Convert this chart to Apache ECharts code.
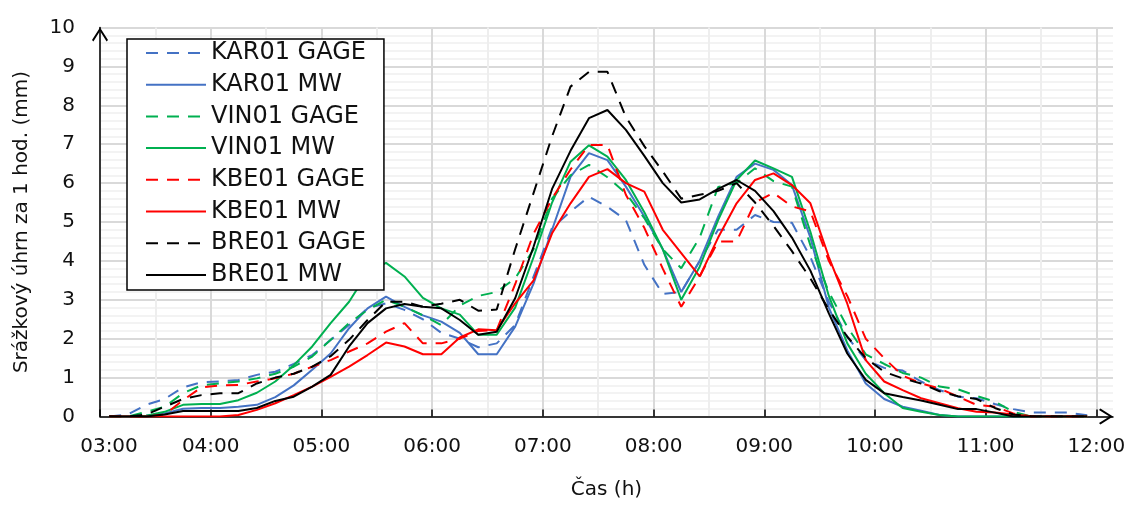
<!DOCTYPE html>
<html>
<head>
<meta charset="utf-8">
<script src="https://cdn.jsdelivr.net/npm/echarts@6/dist/echarts.min.js"></script>
<style>
  html, body { margin: 0; padding: 0; background: #fff; }
  #chart { width: 1138px; height: 505px; }
</style>
</head>
<body>
<div id="chart"></div>
<script>
// 10-minute intervals, plotted at the middle of each interval
const times = [
  '03:05', '03:15', '03:25', '03:35', '03:45', '03:55',
  '04:05', '04:15', '04:25', '04:35', '04:45', '04:55',
  '05:05', '05:15', '05:25', '05:35', '05:45', '05:55',
  '06:05', '06:15', '06:25', '06:35', '06:45', '06:55',
  '07:05', '07:15', '07:25', '07:35', '07:45', '07:55',
  '08:05', '08:15', '08:25', '08:35', '08:45', '08:55',
  '09:05', '09:15', '09:25', '09:35', '09:45', '09:55',
  '10:05', '10:15', '10:25', '10:35', '10:45', '10:55',
  '11:05', '11:15', '11:25', '11:35', '11:45', '11:55'
]
const hourLabels = ['03:00', '04:00', '05:00', '06:00', '07:00', '08:00', '09:00', '10:00', '11:00', '12:00']

const karGage = [0, 0.05, 0.3, 0.45, 0.75, 0.88, 0.9, 0.94, 1.07, 1.15, 1.35, 1.58, 1.97, 2.35, 2.78, 2.91, 2.74, 2.5, 2.15, 2.0,
  1.78, 1.88, 2.35, 3.6, 4.85, 5.27, 5.65, 5.39, 5.05, 3.9, 3.15, 3.2, 4.0, 4.8, 4.8, 5.18, 5.0, 4.98, 4.1, 2.95,
  2.05, 1.45, 1.25, 1.18, 0.9, 0.68, 0.51, 0.47, 0.32, 0.19, 0.1, 0.1, 0.1, 0.03]
const karMw = [0, 0, 0.02, 0.08, 0.2, 0.22, 0.22, 0.25, 0.3, 0.5, 0.8, 1.2, 1.62, 2.27, 2.78, 3.08, 2.82, 2.6, 2.44, 2.15,
  1.6, 1.6, 2.31, 3.42, 4.8, 6.16, 6.77, 6.59, 5.91, 5.14, 4.3, 3.2, 4.0, 5.14, 6.16, 6.5, 6.34, 5.95, 4.6, 2.8,
  1.7, 0.85, 0.45, 0.25, 0.15, 0.04, 0, 0, 0, 0, 0, 0, 0, 0]
const vinGage = [0, 0, 0.12, 0.25, 0.6, 0.8, 0.85, 0.9, 0.98, 1.1, 1.28, 1.54, 1.97, 2.4, 2.74, 3.0, 2.82, 2.6, 2.35, 2.85,
  3.1, 3.2, 3.55, 4.3, 5.6, 6.2, 6.47, 6.15, 5.74, 5.1, 4.3, 3.81, 4.6, 5.9, 6.0, 6.38, 6.05, 5.91, 4.4, 3.2,
  2.3, 1.6, 1.35, 1.12, 1.0, 0.77, 0.7, 0.53, 0.38, 0.12, 0, 0, 0, 0]
const vinMw = [0, 0, 0.02, 0.12, 0.3, 0.32, 0.32, 0.42, 0.61, 0.9, 1.32, 1.8, 2.4, 2.95, 3.7, 3.95, 3.6, 3.05, 2.78, 2.62,
  2.1, 2.1, 2.8, 4.1, 5.5, 6.55, 6.97, 6.68, 6.08, 5.25, 4.3, 3.0, 3.85, 5.05, 6.08, 6.58, 6.38, 6.16, 4.75, 3.1,
  1.88, 1.1, 0.6, 0.22, 0.12, 0.04, 0, 0, 0, 0, 0, 0, 0, 0]
const kbeGage = [0, 0, 0, 0.05, 0.42, 0.75, 0.8, 0.81, 0.9, 0.98, 1.1, 1.28, 1.45, 1.67, 1.88, 2.18, 2.4, 1.88, 1.88, 2.0,
  2.2, 2.22, 3.4, 4.7, 5.6, 6.35, 6.98, 6.98, 5.7, 4.85, 3.8, 2.82, 3.6, 4.5, 4.5, 5.5, 5.75, 5.4, 5.27, 4.0,
  3.1, 2.0, 1.5, 1.05, 0.85, 0.72, 0.51, 0.3, 0.25, 0.08, 0, 0, 0, 0]
const kbeMw = [0, 0, 0, 0, 0, 0, 0, 0.04, 0.17, 0.34, 0.55, 0.77, 1.02, 1.28, 1.58, 1.9, 1.8, 1.6, 1.6, 2.03,
  2.24, 2.22, 2.91, 3.5, 4.71, 5.48, 6.16, 6.36, 6.0, 5.78, 4.8, 4.2, 3.6, 4.6, 5.48, 6.08, 6.25, 5.95, 5.48, 4.1,
  2.9, 1.45, 0.9, 0.68, 0.47, 0.34, 0.21, 0.12, 0.1, 0.05, 0, 0, 0, 0]
const breGage = [0, 0, 0.05, 0.25, 0.45, 0.55, 0.6, 0.6, 0.85, 1.0, 1.1, 1.28, 1.55, 1.97, 2.48, 2.95, 2.95, 2.82, 2.9, 3.0,
  2.72, 2.75, 4.3, 5.75, 7.2, 8.48, 8.86, 8.86, 7.7, 6.95, 6.3, 5.6, 5.7, 5.8, 6.0, 5.5, 4.9, 4.25, 3.55, 2.75,
  2.05, 1.5, 1.15, 0.98, 0.85, 0.65, 0.52, 0.45, 0.22, 0.05, 0, 0, 0, 0]
const breMw = [0, 0, 0, 0.05, 0.14, 0.14, 0.14, 0.14, 0.22, 0.4, 0.51, 0.77, 1.07, 1.8, 2.4, 2.78, 2.89, 2.82, 2.78, 2.48,
  2.1, 2.18, 3.04, 4.37, 5.85, 6.83, 7.67, 7.88, 7.37, 6.7, 6.0, 5.5, 5.58, 5.85, 6.08, 5.8, 5.28, 4.6, 3.75, 2.65,
  1.62, 0.94, 0.6, 0.5, 0.41, 0.3, 0.19, 0.19, 0.1, 0, 0, 0, 0, 0]

const seriesDefs = [
  {name: 'KAR01 GAGE', values: karGage, color: '#4472C4', dashed: true},
  {name: 'KAR01 MW', values: karMw, color: '#4472C4', dashed: false},
  {name: 'VIN01 GAGE', values: vinGage, color: '#00B050', dashed: true},
  {name: 'VIN01 MW', values: vinMw, color: '#00B050', dashed: false},
  {name: 'KBE01 GAGE', values: kbeGage, color: '#FF0000', dashed: true},
  {name: 'KBE01 MW', values: kbeMw, color: '#FF0000', dashed: false},
  {name: 'BRE01 GAGE', values: breGage, color: '#000000', dashed: true},
  {name: 'BRE01 MW', values: breMw, color: '#000000', dashed: false}
]

function toMinutes(t) {
  const parts = t.split(':')
  return Number(parts[0]) * 60 + Number(parts[1])
}

// open arrow head for the axis ends
const chevron = 'path://M0,12.6 L8,0 L16,12.6 L14.6,14 L8,3.5 L1.4,14 Z'
const font = 'DejaVu Sans'

const chart = echarts.init(document.getElementById('chart'))

const option = {
  animation: false,
  textStyle: {fontFamily: font},
  grid: {left: 100, right: 25, top: 27.5, bottom: 88.5},
  legend: {
    orient: 'vertical',
    left: 127,
    top: 39,
    itemWidth: 60,
    itemHeight: 14,
    itemGap: 7.7,
    padding: [2, 18, 3, 18],
    backgroundColor: '#fff',
    borderColor: '#000',
    borderWidth: 1.5,
    // line only, no marker in the legend samples
    itemStyle: {opacity: 0},
    textStyle: {fontSize: 24, color: '#111', fontFamily: font},
    data: seriesDefs.map(s => s.name)
  },
  xAxis: {
    type: 'value',
    min: 180,
    max: 729,
    interval: 60,
    name: 'Čas (h)',
    nameLocation: 'middle',
    nameGap: 63,
    nameTextStyle: {fontSize: 20, color: '#111', fontFamily: font},
    axisLine: {
      onZero: false,
      lineStyle: {color: '#000', width: 1.5},
      symbol: ['none', chevron],
      symbolSize: [17, 14],
      symbolOffset: [0, -7]
    },
    axisTick: {show: true, inside: true, length: 7, lineStyle: {color: '#000', width: 1.5}},
    axisLabel: {
      fontSize: 20,
      color: '#111',
      margin: 20,
      showMaxLabel: false,
      formatter: v => {
        if (v % 60 !== 0) return ''
        const label = hourLabels[(v - 180) / 60]
        return v === 180 ? '{first|' + label + '}' : label
      },
      rich: {first: {fontSize: 20, color: '#111', fontFamily: font, padding: [0, 0, 0, 18]}}
    },
    splitLine: {show: true, showMaxLine: false, lineStyle: {color: '#d9d9d9', width: 2}},
    minorTick: {show: false, splitNumber: 2},
    minorSplitLine: {show: true, lineStyle: {color: '#eeeeee', width: 2}}
  },
  yAxis: {
    type: 'value',
    min: 0,
    max: 10,
    interval: 1,
    name: 'Srážkový úhrn za 1 hod. (mm)',
    nameLocation: 'middle',
    nameGap: 68,
    nameTextStyle: {fontSize: 20, color: '#111', fontFamily: font},
    axisLine: {
      show: true,
      lineStyle: {color: '#000', width: 1.5},
      symbol: ['none', chevron],
      symbolSize: [16, 14],
      symbolOffset: [0, -7]
    },
    axisTick: {show: false},
    axisLabel: {fontSize: 20, color: '#111', margin: 25},
    splitLine: {show: true, lineStyle: {color: '#d9d9d9', width: 2}},
    minorTick: {show: false, splitNumber: 5},
    minorSplitLine: {show: true, lineStyle: {color: '#f0f0f0', width: 1.5}}
  },
  series: seriesDefs.map(s => ({
    name: s.name,
    type: 'line',
    symbol: 'none',
    showSymbol: false,
    color: s.color,
    lineStyle: {color: s.color, width: 2, type: s.dashed ? [12, 9] : 'solid'},
    data: times.map((t, i) => [toMinutes(t), s.values[i]])
  }))
}

chart.setOption(option)
</script>
</body>
</html>
